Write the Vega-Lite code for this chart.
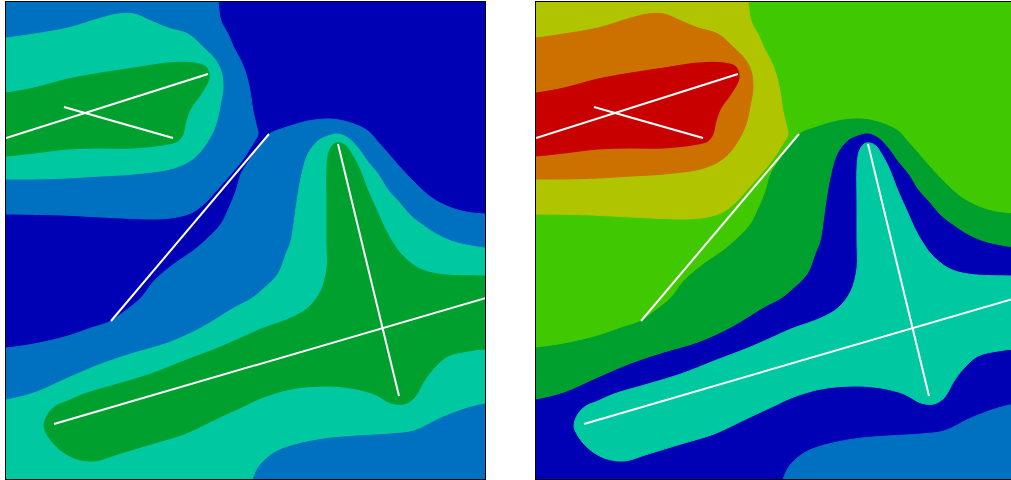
{
  "$schema": "https://vega.github.io/schema/vega-lite/v6.json",
  "padding": {"left": 5, "top": 1, "right": 0, "bottom": 0},
  "spacing": 49,
  "config": {"view": {"stroke": "black", "strokeWidth": 2}},
  "datasets": {
    "regions": [
      {"r": "p0", "i": 0, "x": -20, "y": -20}, {"r": "p0", "i": 1, "x": 500, "y": -20}, {"r": "p0", "i": 2, "x": 500, "y": 500}, {"r": "p0", "i": 3, "x": -20, "y": 500},

      {"r": "p1", "i": 0, "x": -20, "y": -20}, {"r": "p1", "i": 1, "x": 209, "y": -20}, {"r": "p1", "i": 2, "x": 212, "y": 0}, {"r": "p1", "i": 3, "x": 215, "y": 19},
      {"r": "p1", "i": 4, "x": 222, "y": 32}, {"r": "p1", "i": 5, "x": 228, "y": 46}, {"r": "p1", "i": 6, "x": 235, "y": 59}, {"r": "p1", "i": 7, "x": 240, "y": 72},
      {"r": "p1", "i": 8, "x": 244, "y": 89}, {"r": "p1", "i": 9, "x": 247, "y": 109}, {"r": "p1", "i": 10, "x": 250, "y": 122}, {"r": "p1", "i": 11, "x": 252, "y": 132},
      {"r": "p1", "i": 12, "x": 248, "y": 140}, {"r": "p1", "i": 13, "x": 243, "y": 148}, {"r": "p1", "i": 14, "x": 238, "y": 156}, {"r": "p1", "i": 15, "x": 225, "y": 172},
      {"r": "p1", "i": 16, "x": 210, "y": 189}, {"r": "p1", "i": 17, "x": 198, "y": 202}, {"r": "p1", "i": 18, "x": 185, "y": 211}, {"r": "p1", "i": 19, "x": 165, "y": 216},
      {"r": "p1", "i": 20, "x": 145, "y": 217}, {"r": "p1", "i": 21, "x": 95, "y": 215}, {"r": "p1", "i": 22, "x": 55, "y": 213}, {"r": "p1", "i": 23, "x": 0, "y": 212},
      {"r": "p1", "i": 24, "x": -20, "y": 212},

      {"r": "p2", "i": 0, "x": -20, "y": 38}, {"r": "p2", "i": 1, "x": 0, "y": 36}, {"r": "p2", "i": 2, "x": 28, "y": 32}, {"r": "p2", "i": 3, "x": 62, "y": 26},
      {"r": "p2", "i": 4, "x": 95, "y": 16}, {"r": "p2", "i": 5, "x": 112, "y": 12}, {"r": "p2", "i": 6, "x": 128, "y": 12}, {"r": "p2", "i": 7, "x": 145, "y": 19},
      {"r": "p2", "i": 8, "x": 162, "y": 26}, {"r": "p2", "i": 9, "x": 182, "y": 32}, {"r": "p2", "i": 10, "x": 198, "y": 46}, {"r": "p2", "i": 11, "x": 208, "y": 56},
      {"r": "p2", "i": 12, "x": 215, "y": 69}, {"r": "p2", "i": 13, "x": 217, "y": 86}, {"r": "p2", "i": 14, "x": 215, "y": 99}, {"r": "p2", "i": 15, "x": 210, "y": 122},
      {"r": "p2", "i": 16, "x": 202, "y": 139}, {"r": "p2", "i": 17, "x": 188, "y": 156}, {"r": "p2", "i": 18, "x": 168, "y": 166}, {"r": "p2", "i": 19, "x": 128, "y": 172},
      {"r": "p2", "i": 20, "x": 95, "y": 174}, {"r": "p2", "i": 21, "x": 62, "y": 176}, {"r": "p2", "i": 22, "x": 28, "y": 177}, {"r": "p2", "i": 23, "x": 0, "y": 177},
      {"r": "p2", "i": 24, "x": -20, "y": 177},

      {"r": "p3", "i": 0, "x": -20, "y": 93}, {"r": "p3", "i": 1, "x": 0, "y": 91}, {"r": "p3", "i": 2, "x": 28, "y": 86}, {"r": "p3", "i": 3, "x": 62, "y": 77},
      {"r": "p3", "i": 4, "x": 95, "y": 71}, {"r": "p3", "i": 5, "x": 128, "y": 66}, {"r": "p3", "i": 6, "x": 162, "y": 61}, {"r": "p3", "i": 7, "x": 188, "y": 61},
      {"r": "p3", "i": 8, "x": 200, "y": 65}, {"r": "p3", "i": 9, "x": 203, "y": 76}, {"r": "p3", "i": 10, "x": 195, "y": 92}, {"r": "p3", "i": 11, "x": 185, "y": 106},
      {"r": "p3", "i": 12, "x": 180, "y": 119}, {"r": "p3", "i": 13, "x": 177, "y": 132}, {"r": "p3", "i": 14, "x": 172, "y": 139}, {"r": "p3", "i": 15, "x": 162, "y": 142},
      {"r": "p3", "i": 16, "x": 128, "y": 146}, {"r": "p3", "i": 17, "x": 95, "y": 146}, {"r": "p3", "i": 18, "x": 62, "y": 147}, {"r": "p3", "i": 19, "x": 28, "y": 151},
      {"r": "p3", "i": 20, "x": 0, "y": 154}, {"r": "p3", "i": 21, "x": -20, "y": 155},

      {"r": "n1", "i": 0, "x": -20, "y": 348}, {"r": "n1", "i": 1, "x": 0, "y": 346}, {"r": "n1", "i": 2, "x": 28, "y": 342}, {"r": "n1", "i": 3, "x": 62, "y": 334},
      {"r": "n1", "i": 4, "x": 85, "y": 326}, {"r": "n1", "i": 5, "x": 103, "y": 320}, {"r": "n1", "i": 6, "x": 115, "y": 312}, {"r": "n1", "i": 7, "x": 135, "y": 296},
      {"r": "n1", "i": 8, "x": 148, "y": 279}, {"r": "n1", "i": 9, "x": 168, "y": 262}, {"r": "n1", "i": 10, "x": 187, "y": 249}, {"r": "n1", "i": 11, "x": 202, "y": 236},
      {"r": "n1", "i": 12, "x": 215, "y": 222}, {"r": "n1", "i": 13, "x": 223, "y": 206}, {"r": "n1", "i": 14, "x": 230, "y": 189}, {"r": "n1", "i": 15, "x": 235, "y": 172},
      {"r": "n1", "i": 16, "x": 245, "y": 156}, {"r": "n1", "i": 17, "x": 253, "y": 144}, {"r": "n1", "i": 18, "x": 260, "y": 136}, {"r": "n1", "i": 19, "x": 265, "y": 131},
      {"r": "n1", "i": 20, "x": 278, "y": 126}, {"r": "n1", "i": 21, "x": 302, "y": 119}, {"r": "n1", "i": 22, "x": 325, "y": 117}, {"r": "n1", "i": 23, "x": 345, "y": 121},
      {"r": "n1", "i": 24, "x": 362, "y": 129}, {"r": "n1", "i": 25, "x": 372, "y": 140}, {"r": "n1", "i": 26, "x": 380, "y": 149}, {"r": "n1", "i": 27, "x": 393, "y": 164},
      {"r": "n1", "i": 28, "x": 410, "y": 182}, {"r": "n1", "i": 29, "x": 426, "y": 196}, {"r": "n1", "i": 30, "x": 443, "y": 205}, {"r": "n1", "i": 31, "x": 460, "y": 210},
      {"r": "n1", "i": 32, "x": 479, "y": 212}, {"r": "n1", "i": 33, "x": 500, "y": 213}, {"r": "n1", "i": 34, "x": 500, "y": 500}, {"r": "n1", "i": 35, "x": -20, "y": 500},

      {"r": "n2", "i": 0, "x": -20, "y": 401}, {"r": "n2", "i": 1, "x": 0, "y": 398}, {"r": "n2", "i": 2, "x": 28, "y": 391}, {"r": "n2", "i": 3, "x": 62, "y": 376},
      {"r": "n2", "i": 4, "x": 95, "y": 362}, {"r": "n2", "i": 5, "x": 128, "y": 351}, {"r": "n2", "i": 6, "x": 162, "y": 341}, {"r": "n2", "i": 7, "x": 195, "y": 326},
      {"r": "n2", "i": 8, "x": 228, "y": 306}, {"r": "n2", "i": 9, "x": 245, "y": 297}, {"r": "n2", "i": 10, "x": 255, "y": 289}, {"r": "n2", "i": 11, "x": 272, "y": 272},
      {"r": "n2", "i": 12, "x": 280, "y": 252}, {"r": "n2", "i": 13, "x": 285, "y": 239}, {"r": "n2", "i": 14, "x": 290, "y": 206}, {"r": "n2", "i": 15, "x": 295, "y": 176},
      {"r": "n2", "i": 16, "x": 302, "y": 152}, {"r": "n2", "i": 17, "x": 312, "y": 139}, {"r": "n2", "i": 18, "x": 322, "y": 134}, {"r": "n2", "i": 19, "x": 332, "y": 132},
      {"r": "n2", "i": 20, "x": 342, "y": 136}, {"r": "n2", "i": 21, "x": 352, "y": 146}, {"r": "n2", "i": 22, "x": 362, "y": 160}, {"r": "n2", "i": 23, "x": 372, "y": 172},
      {"r": "n2", "i": 24, "x": 382, "y": 188}, {"r": "n2", "i": 25, "x": 392, "y": 199}, {"r": "n2", "i": 26, "x": 405, "y": 214}, {"r": "n2", "i": 27, "x": 418, "y": 224},
      {"r": "n2", "i": 28, "x": 430, "y": 232}, {"r": "n2", "i": 29, "x": 445, "y": 239}, {"r": "n2", "i": 30, "x": 460, "y": 243}, {"r": "n2", "i": 31, "x": 479, "y": 246},
      {"r": "n2", "i": 32, "x": 500, "y": 247}, {"r": "n2", "i": 33, "x": 500, "y": 500}, {"r": "n2", "i": 34, "x": -20, "y": 500},

      {"r": "n4", "i": 0, "x": 243, "y": 500}, {"r": "n4", "i": 1, "x": 246, "y": 481}, {"r": "n4", "i": 2, "x": 250, "y": 470}, {"r": "n4", "i": 3, "x": 255, "y": 462},
      {"r": "n4", "i": 4, "x": 268, "y": 451}, {"r": "n4", "i": 5, "x": 285, "y": 444}, {"r": "n4", "i": 6, "x": 318, "y": 437}, {"r": "n4", "i": 7, "x": 352, "y": 434},
      {"r": "n4", "i": 8, "x": 385, "y": 432}, {"r": "n4", "i": 9, "x": 408, "y": 429}, {"r": "n4", "i": 10, "x": 435, "y": 416}, {"r": "n4", "i": 11, "x": 462, "y": 406},
      {"r": "n4", "i": 12, "x": 479, "y": 402}, {"r": "n4", "i": 13, "x": 500, "y": 399}, {"r": "n4", "i": 14, "x": 500, "y": 500},

      {"r": "n3", "i": 0, "x": 500, "y": 274}, {"r": "n3", "i": 1, "x": 479, "y": 274}, {"r": "n3", "i": 2, "x": 432, "y": 272}, {"r": "n3", "i": 3, "x": 412, "y": 266},
      {"r": "n3", "i": 4, "x": 395, "y": 252}, {"r": "n3", "i": 5, "x": 387, "y": 241}, {"r": "n3", "i": 6, "x": 379, "y": 227}, {"r": "n3", "i": 7, "x": 371, "y": 209},
      {"r": "n3", "i": 8, "x": 362, "y": 189}, {"r": "n3", "i": 9, "x": 353, "y": 166}, {"r": "n3", "i": 10, "x": 345, "y": 151}, {"r": "n3", "i": 11, "x": 340, "y": 144},
      {"r": "n3", "i": 12, "x": 334, "y": 141}, {"r": "n3", "i": 13, "x": 328, "y": 142}, {"r": "n3", "i": 14, "x": 323, "y": 150}, {"r": "n3", "i": 15, "x": 321, "y": 166},
      {"r": "n3", "i": 16, "x": 321, "y": 199}, {"r": "n3", "i": 17, "x": 321, "y": 239}, {"r": "n3", "i": 18, "x": 321, "y": 266}, {"r": "n3", "i": 19, "x": 315, "y": 289},
      {"r": "n3", "i": 20, "x": 302, "y": 306}, {"r": "n3", "i": 21, "x": 285, "y": 316}, {"r": "n3", "i": 22, "x": 255, "y": 327}, {"r": "n3", "i": 23, "x": 235, "y": 336},
      {"r": "n3", "i": 24, "x": 212, "y": 346}, {"r": "n3", "i": 25, "x": 178, "y": 359}, {"r": "n3", "i": 26, "x": 145, "y": 372}, {"r": "n3", "i": 27, "x": 112, "y": 382},
      {"r": "n3", "i": 28, "x": 78, "y": 392}, {"r": "n3", "i": 29, "x": 62, "y": 399}, {"r": "n3", "i": 30, "x": 50, "y": 404}, {"r": "n3", "i": 31, "x": 42, "y": 412},
      {"r": "n3", "i": 32, "x": 38, "y": 424}, {"r": "n3", "i": 33, "x": 42, "y": 434}, {"r": "n3", "i": 34, "x": 52, "y": 446}, {"r": "n3", "i": 35, "x": 68, "y": 456},
      {"r": "n3", "i": 36, "x": 88, "y": 459}, {"r": "n3", "i": 37, "x": 112, "y": 452}, {"r": "n3", "i": 38, "x": 145, "y": 442}, {"r": "n3", "i": 39, "x": 178, "y": 432},
      {"r": "n3", "i": 40, "x": 212, "y": 416}, {"r": "n3", "i": 41, "x": 240, "y": 403}, {"r": "n3", "i": 42, "x": 255, "y": 396}, {"r": "n3", "i": 43, "x": 285, "y": 387},
      {"r": "n3", "i": 44, "x": 318, "y": 384}, {"r": "n3", "i": 45, "x": 345, "y": 386}, {"r": "n3", "i": 46, "x": 368, "y": 392}, {"r": "n3", "i": 47, "x": 385, "y": 401},
      {"r": "n3", "i": 48, "x": 398, "y": 402}, {"r": "n3", "i": 49, "x": 408, "y": 396}, {"r": "n3", "i": 50, "x": 418, "y": 379}, {"r": "n3", "i": 51, "x": 428, "y": 366},
      {"r": "n3", "i": 52, "x": 442, "y": 354}, {"r": "n3", "i": 53, "x": 462, "y": 349}, {"r": "n3", "i": 54, "x": 479, "y": 347}, {"r": "n3", "i": 55, "x": 500, "y": 347}
    ],
    "strokes": [
      {"s": "a", "i": 0, "x": 0, "y": 136}, {"s": "a", "i": 1, "x": 202, "y": 72},
      {"s": "b", "i": 0, "x": 58, "y": 105}, {"s": "b", "i": 1, "x": 167, "y": 136},
      {"s": "c", "i": 0, "x": 105, "y": 319}, {"s": "c", "i": 1, "x": 263, "y": 132},
      {"s": "d", "i": 0, "x": 48, "y": 422}, {"s": "d", "i": 1, "x": 480, "y": 296},
      {"s": "e", "i": 0, "x": 332, "y": 142}, {"s": "e", "i": 1, "x": 393, "y": 394}
    ]
  },
  "hconcat": [
    {
      "width": 479,
      "height": 477,
      "layer": [
        {
          "data": {"name": "regions"},
          "encoding": {
            "x": {"field": "x", "type": "quantitative", "scale": {"domain": [0, 479], "nice": false, "zero": false}, "axis": null},
            "y": {"field": "y", "type": "quantitative", "scale": {"domain": [0, 477], "nice": false, "zero": false, "reverse": true}, "axis": null},
            "order": {"field": "i", "type": "quantitative"},
            "fill": {"field": "r", "type": "nominal", "legend": null, "scale": {"domain": ["p0", "p1", "p2", "p3", "n1", "n2", "n3", "n4"], "range": ["#0000B4", "#0070C0", "#00C8A0", "#00A02E", "#0070C0", "#00C8A0", "#00A02E", "#0070C0"]}},
            "stroke": {"field": "r", "type": "nominal", "legend": null, "scale": {"domain": ["p0", "p1", "p2", "p3", "n1", "n2", "n3", "n4"], "range": ["#0000B4", "#0070C0", "#00C8A0", "#00A02E", "#0070C0", "#00C8A0", "#00A02E", "#0070C0"]}}
          },
          "layer": [
            {"transform": [{"filter": "datum.r === 'p0'"}], "mark": {"type": "line", "strokeWidth": 1, "clip": true}},
            {"transform": [{"filter": "datum.r === 'p1'"}], "mark": {"type": "line", "interpolate": "catmull-rom", "strokeWidth": 1, "clip": true}},
            {"transform": [{"filter": "datum.r === 'p2'"}], "mark": {"type": "line", "interpolate": "catmull-rom", "strokeWidth": 1, "clip": true}},
            {"transform": [{"filter": "datum.r === 'p3'"}], "mark": {"type": "line", "interpolate": "catmull-rom", "strokeWidth": 1, "clip": true}},
            {"transform": [{"filter": "datum.r === 'n1'"}], "mark": {"type": "line", "interpolate": "catmull-rom", "strokeWidth": 1, "clip": true}},
            {"transform": [{"filter": "datum.r === 'n2'"}], "mark": {"type": "line", "interpolate": "catmull-rom", "strokeWidth": 1, "clip": true}},
            {"transform": [{"filter": "datum.r === 'n4'"}], "mark": {"type": "line", "interpolate": "catmull-rom", "strokeWidth": 1, "clip": true}},
            {"transform": [{"filter": "datum.r === 'n3'"}], "mark": {"type": "line", "interpolate": "catmull-rom", "strokeWidth": 1, "clip": true}}
          ]
        },
        {
          "data": {"name": "strokes"},
          "mark": {"type": "line", "stroke": "white", "strokeWidth": 2, "clip": true},
          "encoding": {
            "x": {"field": "x", "type": "quantitative", "axis": null},
            "y": {"field": "y", "type": "quantitative", "axis": null},
            "order": {"field": "i", "type": "quantitative"},
            "detail": {"field": "s", "type": "nominal"}
          }
        }
      ]
    },
    {
      "width": 479,
      "height": 477,
      "layer": [
        {
          "data": {"name": "regions"},
          "encoding": {
            "x": {"field": "x", "type": "quantitative", "scale": {"domain": [0, 479], "nice": false, "zero": false}, "axis": null},
            "y": {"field": "y", "type": "quantitative", "scale": {"domain": [0, 477], "nice": false, "zero": false, "reverse": true}, "axis": null},
            "order": {"field": "i", "type": "quantitative"},
            "fill": {"field": "r", "type": "nominal", "legend": null, "scale": {"domain": ["p0", "p1", "p2", "p3", "n1", "n2", "n3", "n4"], "range": ["#40C800", "#B0C400", "#CC7000", "#C80000", "#00A02E", "#0000B4", "#00C8A0", "#0070C0"]}},
            "stroke": {"field": "r", "type": "nominal", "legend": null, "scale": {"domain": ["p0", "p1", "p2", "p3", "n1", "n2", "n3", "n4"], "range": ["#40C800", "#B0C400", "#CC7000", "#C80000", "#00A02E", "#0000B4", "#00C8A0", "#0070C0"]}}
          },
          "layer": [
            {"transform": [{"filter": "datum.r === 'p0'"}], "mark": {"type": "line", "strokeWidth": 1, "clip": true}},
            {"transform": [{"filter": "datum.r === 'p1'"}], "mark": {"type": "line", "interpolate": "catmull-rom", "strokeWidth": 1, "clip": true}},
            {"transform": [{"filter": "datum.r === 'p2'"}], "mark": {"type": "line", "interpolate": "catmull-rom", "strokeWidth": 1, "clip": true}},
            {"transform": [{"filter": "datum.r === 'p3'"}], "mark": {"type": "line", "interpolate": "catmull-rom", "strokeWidth": 1, "clip": true}},
            {"transform": [{"filter": "datum.r === 'n1'"}], "mark": {"type": "line", "interpolate": "catmull-rom", "strokeWidth": 1, "clip": true}},
            {"transform": [{"filter": "datum.r === 'n2'"}], "mark": {"type": "line", "interpolate": "catmull-rom", "strokeWidth": 1, "clip": true}},
            {"transform": [{"filter": "datum.r === 'n4'"}], "mark": {"type": "line", "interpolate": "catmull-rom", "strokeWidth": 1, "clip": true}},
            {"transform": [{"filter": "datum.r === 'n3'"}], "mark": {"type": "line", "interpolate": "catmull-rom", "strokeWidth": 1, "clip": true}}
          ]
        },
        {
          "data": {"name": "strokes"},
          "mark": {"type": "line", "stroke": "white", "strokeWidth": 2, "clip": true},
          "encoding": {
            "x": {"field": "x", "type": "quantitative", "axis": null},
            "y": {"field": "y", "type": "quantitative", "axis": null},
            "order": {"field": "i", "type": "quantitative"},
            "detail": {"field": "s", "type": "nominal"}
          }
        }
      ]
    }
  ],
  "resolve": {"scale": {"fill": "independent", "stroke": "independent"}}
}
